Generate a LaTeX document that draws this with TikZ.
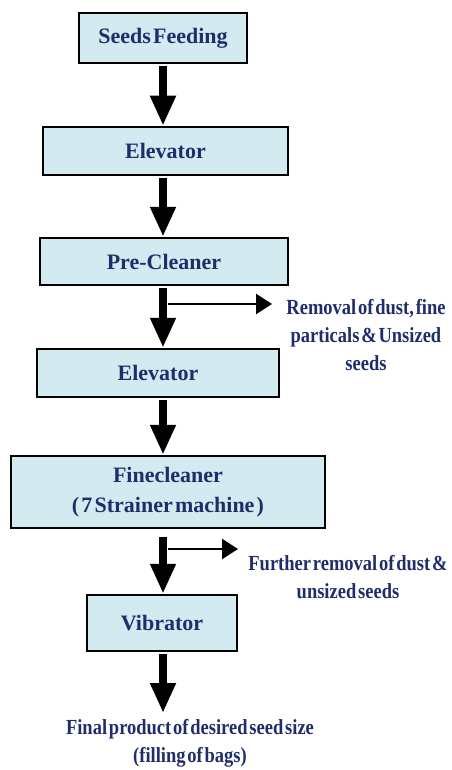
\documentclass[tikz,border=0pt]{standalone}
\usepackage{fontspec}
\setmainfont[WordSpace=0.4]{Liberation Serif}
\newfontfamily\condfont[FakeStretch=0.86, WordSpace=0.4]{Liberation Serif}
\usepackage{xcolor}
\usetikzlibrary{
    arrows.meta,
    positioning
}
\definecolor{stagefill}{HTML}{D3EAF0}
\definecolor{stagetext}{HTML}{1F2D6B}

\begin{document}
\begin{tikzpicture}[x=1pt, y=-1pt,
    stage/.style={draw, line width=2.5pt, fill=stagefill, text=stagetext,
        inner sep=0pt, align=center, font=\bfseries\fontsize{22}{30}\selectfont},
    flow/.style={line width=8pt, shorten <=2pt, -{Triangle[width=24pt,length=30pt]}},
    aside/.style={line width=2.5pt, -{Triangle[width=20pt,length=16pt]}},
    note/.style={text=stagetext, inner sep=0pt, align=center,
        font=\condfont\bfseries\fontsize{21.5}{28}\selectfont}]
    \useasboundingbox (0, 0) rectangle (451, 770);

    % process stages
    \node[stage, minimum width=168pt, minimum height=50pt] (feed) at (163, 38) {Seeds Feeding};
    \node[stage, minimum width=245pt, minimum height=48pt] (elev1) at (165.5, 151) {Elevator};
    \node[stage, minimum width=248pt, minimum height=47pt] (pre) at (164, 261.5) {Pre-Cleaner};
    \node[stage, minimum width=242pt, minimum height=48pt] (elev2) at (158, 373) {Elevator};
    \node[stage, minimum width=314pt, minimum height=72pt] (fine) at (168, 492) {Finecleaner\\( 7 Strainer machine )};
    \node[stage, minimum width=150pt, minimum height=56pt] (vib) at (162, 623) {Vibrator};

    % side outputs
    \node[note] (dust) at (366, 335) {Removal of dust, fine\\particals \& Unsized\\seeds};
    \node[note] (further) at (348, 577) {Further removal of dust \&\\unsized seeds};
    \node[note] (product) at (190, 743) {Final product of desired seed size\\(filling of bags)};

    \coordinate (ax) at (163, 0);
    \coordinate (dustA) at (168, 304);
    \coordinate (dustB) at (272, 304);
    \coordinate (furtherA) at (168, 549);
    \coordinate (furtherB) at (238, 549);
    \coordinate (out) at (163, 713);

    \draw[flow] (feed.south -| ax) -- (elev1.north -| ax);
    \draw[flow] (elev1.south -| ax) -- (pre.north -| ax);
    \draw[flow] (pre.south -| ax) -- (elev2.north -| ax);
    \draw[flow] (elev2.south -| ax) -- (fine.north -| ax);
    \draw[flow, shorten <=8pt] (fine.south -| ax) -- (vib.north -| ax);
    \draw[flow] (vib.south -| ax) -- (out);

    \draw[aside] (dustA) -- (dustB);
    \draw[aside] (furtherA) -- (furtherB);
\end{tikzpicture}
\end{document}
